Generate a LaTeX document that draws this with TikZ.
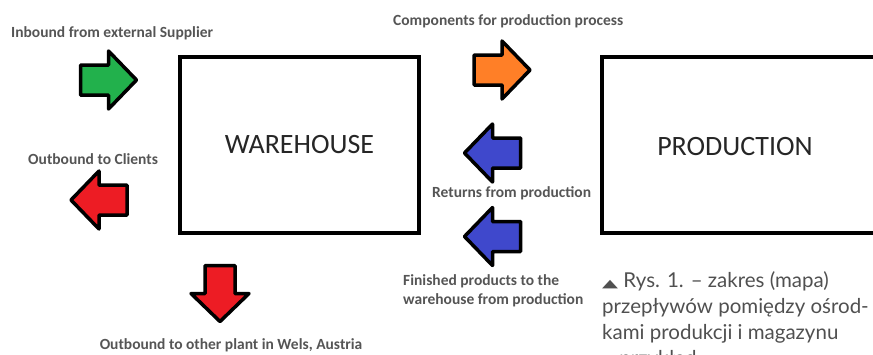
\documentclass[tikz,border=0pt]{standalone}
\usepackage{fontspec}
\setmainfont{Carlito}
\newfontfamily\captionfont{Lato}
\newfontfamily\symfont{DejaVu Sans}
\usepackage{xcolor,graphicx}
\definecolor{flowgreen}{RGB}{34,177,76}
\definecolor{flowred}{RGB}{237,28,36}
\definecolor{floworange}{RGB}{255,127,39}
\definecolor{flowblue}{RGB}{63,72,204}
\definecolor{labelgray}{RGB}{85,85,85}
\definecolor{captiongray}{RGB}{80,80,80}
\usetikzlibrary{positioning}

\tikzset{
  % block arrow pointing right, centred on the origin
  flowarrow/.pic={
    \draw[line width=3.5pt, line join=round, fill=#1]
      (-28,-15) -- (0,-15) -- (0,-29) -- (28,0) -- (0,29) -- (0,15) -- (-28,15) -- cycle;
  },
  dept/.style={draw, line width=4pt, minimum height=176pt, font=\fontsize{28}{30}\selectfont, text=black!85},
  flowlabel/.style={font=\bfseries\fontsize{15.5}{19}\selectfont, text=labelgray, align=left},
  captiontext/.style={font=\captionfont\fontsize{20.5}{26}\selectfont, text=captiongray, align=left}
}

\begin{document}
\begin{tikzpicture}[x=1pt, y=-1pt, every node/.style={inner sep=0pt}]
\useasboundingbox (0,0) rectangle (873,354);
\clip (0,0) rectangle (873,354);
% Departments
\node[dept, minimum width=239pt] (warehouse) at (299.5,145) {WAREHOUSE};
\node[dept, minimum width=278pt] (production) at (741,145) {};
\node[dept, draw=none] (prodtitle) at (735,147) {PRODUCTION};
% Flows around the warehouse
\pic at (108.5,80) {flowarrow=flowgreen};
\pic[rotate=180] at (99,200) {flowarrow=flowred};
\pic[rotate=-90] at (220,293.5) {flowarrow=flowred};
\node[flowlabel, anchor=west] (lblinbound) at (11,33) {Inbound from external Supplier};
\node[flowlabel, anchor=west] (lblclients) at (28,159) {Outbound to Clients};
\node[flowlabel] (lblplant) at (231,345) {Outbound to other plant in Wels, Austria};
% Flows between warehouse and production
\pic at (502,70) {flowarrow=floworange};
\pic[rotate=180] at (492.5,153) {flowarrow=flowblue};
\pic[rotate=180] at (492.5,236.5) {flowarrow=flowblue};
\node[flowlabel, anchor=west] (lblcomponents) at (393,21) {Components for production process};
\node[flowlabel, anchor=west] (lblreturns) at (432,193) {Returns from production};
\node[flowlabel, anchor=north west] (lblfinished) at (403,274) {Finished products to the\\warehouse from production};
% Caption
\node[captiontext, anchor=north west] (caption) at (602,271)
  {{\symfont\fontsize{16}{16}\selectfont\scalebox{1.3}[0.7]{▲}} Rys. 1. – zakres (mapa)\\przepływów pomiędzy ośrod-\\kami produkcji i magazynu\\– przykład};
\end{tikzpicture}
\end{document}
